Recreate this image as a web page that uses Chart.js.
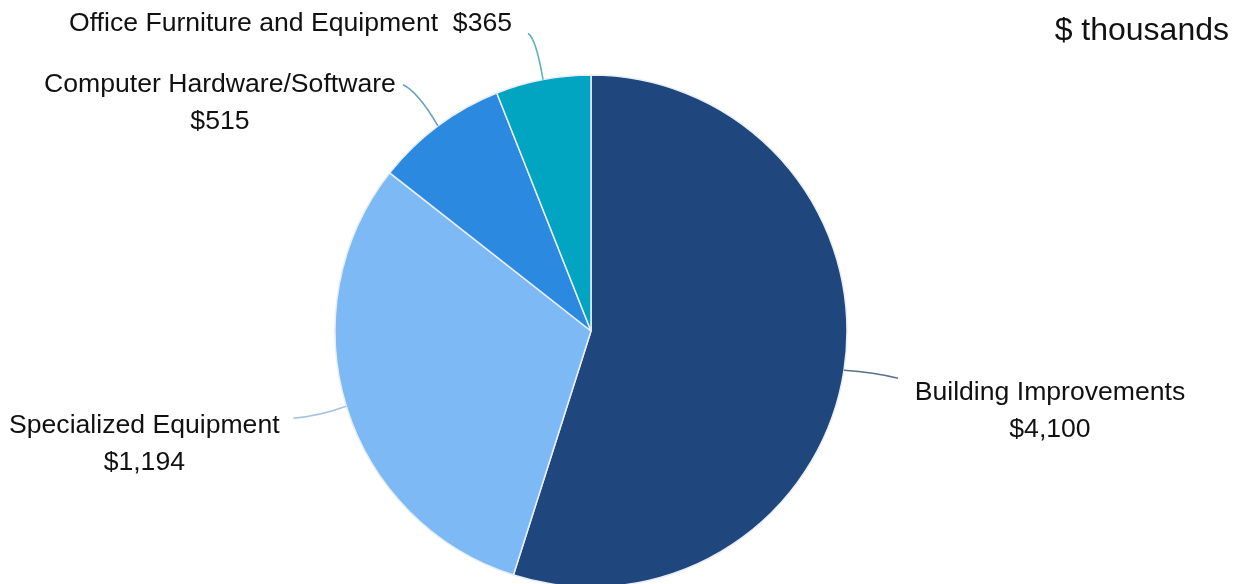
<!DOCTYPE html>
<html>
<head>
<meta charset="utf-8">
<script src="https://cdn.jsdelivr.net/npm/chart.js@4"></script>
<style>
  html, body { margin: 0; padding: 0; background: #ffffff; }
  #wrap { position: relative; width: 1242px; height: 584px; }
</style>
</head>
<body>
<div id="wrap"><canvas id="c"></canvas></div>
<script>
// ---- data ----
const categories = ["Building Improvements", "Specialized Equipment", "Computer Hardware/Software", "Office Furniture and Equipment"];
// stated amounts ($ thousands), as printed on the labels
const amounts = [4100, 1194, 515, 365];
const sliceShares = [54.9, 30.7, 8.4, 6.0];
const unitLabel = "$ thousands";

// ---- styling / layout (kept apart from the data) ----
const sliceColors = ["#1f477d", "#7dbaf5", "#2b8ae0", "#02a5c1"];
const leaderColors = ["#5b6f8e", "#a7c3df", "#6c9fc2", "#5cb3c1"];
// offsets relative to the slice's outer mid-point: leader control, leader end, text anchor, text mode
const labelLayout = [
  { ctrl: [30, 2],   end: [54, 8],    text: [206, 22],  mode: "twoLine" },
  { ctrl: [-28, 10], end: [-53, 12],  text: [-202, 19], mode: "twoLine" },
  { ctrl: [-20, -34],end: [-35, -41], text: [-218, -41], mode: "twoLine" },
  { ctrl: [-7, -41], end: [-15, -46], text: [-31, -56], mode: "oneLineRight" }
];

function fmt(v) { return "$" + v.toLocaleString("en-US"); }

const labelPlugin = {
  id: "pieLabels",
  afterDatasetsDraw(chart) {
    const ctx = chart.ctx;
    const arcs = chart.getDatasetMeta(0).data;
    ctx.save();
    arcs.forEach((arc, i) => {
      const p = arc.getProps(["x", "y", "startAngle", "endAngle", "outerRadius"], true);
      const mid = (p.startAngle + p.endAngle) / 2;
      const sx = p.x + Math.cos(mid) * p.outerRadius;
      const sy = p.y + Math.sin(mid) * p.outerRadius;
      const L = labelLayout[i];
      // leader line
      ctx.beginPath();
      ctx.moveTo(sx, sy);
      ctx.quadraticCurveTo(sx + L.ctrl[0], sy + L.ctrl[1], sx + L.end[0], sy + L.end[1]);
      ctx.strokeStyle = leaderColors[i];
      ctx.lineWidth = 1.6;
      ctx.stroke();
      // text
      ctx.fillStyle = "#111111";
      ctx.font = "26.6px 'Liberation Sans', Arial, sans-serif";
      ctx.textBaseline = "middle";
      const tx = sx + L.text[0], ty = sy + L.text[1];
      if (L.mode === "oneLineRight") {
        ctx.textAlign = "right";
        ctx.fillText(categories[i] + "  " + fmt(amounts[i]), tx, ty);
      } else {
        ctx.textAlign = "center";
        ctx.fillText(categories[i], tx, ty);
        ctx.fillText(fmt(amounts[i]), tx, ty + 37);
      }
    });
    // unit note
    ctx.font = "32px 'Liberation Sans', Arial, sans-serif";
    ctx.textAlign = "right";
    ctx.textBaseline = "middle";
    ctx.fillStyle = "#111111";
    ctx.fillText(unitLabel, 1229, 31);
    ctx.restore();
  }
};

new Chart(document.getElementById("c"), {
  type: "pie",
  data: {
    labels: categories,
    datasets: [{
      data: sliceShares,
      backgroundColor: sliceColors,
      borderColor: "#e9eef5",
      borderWidth: 1.5,
      radius: 256,
      clip: false
    }]
  },
  options: {
    responsive: true,
    maintainAspectRatio: false,
    animation: false,
    layout: { padding: { top: 78, right: 60, left: 0, bottom: 0 } },
    plugins: {
      legend: { display: false },
      tooltip: { enabled: false },
      title: { display: false }
    }
  },
  plugins: [labelPlugin]
});
</script>
</body>
</html>
